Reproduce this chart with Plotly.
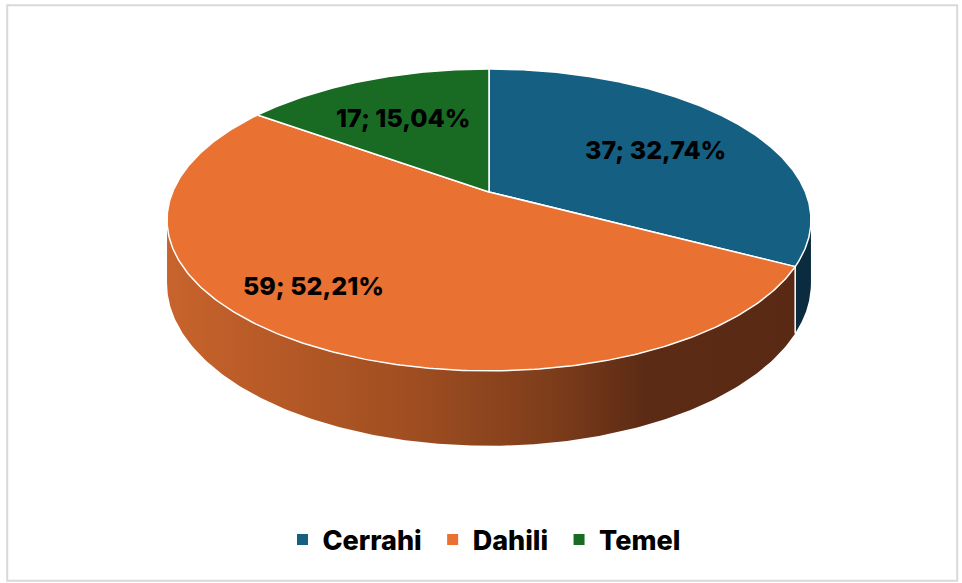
import numpy as np
import plotly.graph_objects as go

# ---- data ----
CATEGORIES = ["Cerrahi", "Dahili", "Temel"]
VALUES = [37, 59, 17]

# ---- styles ----
TOP_COLORS = ["#156082", "#E97132", "#196B24"]
WALL_SOLID = ["#0B2C3E", None, "#0C3512"]
DAHILI_WALL_SCALE = [[0.0, "#C8632C"], [0.38, "#A04E21"], [0.6, "#7E3D1B"],
                     [0.75, "#5C2B15"], [1.0, "#5A2913"]]
LABEL_XY = [(655, 150), (313, 286), (403, 118)]
FONT = "Inter, Roboto, 'Open Sans', sans-serif"

W, Hpx = 962, 583
CX, CY = 489.0, 192.0
RX, RY = 316.4, 145.8
K = 0.185
DEPTH = 61.0


def proj(theta_deg, r=1.0, depth=0.0):
    t = np.radians(np.asarray(theta_deg, dtype=float))
    u = r * np.sin(t)
    v = r * np.cos(t)
    p = 1.0 / (1.0 + K * v)
    x = CX + RX * u * p
    y = CY - RY * v * p + depth * DEPTH * p
    return x, y


total = sum(VALUES)
angles = np.cumsum([0] + [v / total * 360 for v in VALUES])
theta_r = np.degrees(np.arccos(-K))          # right silhouette
theta_l = 360 - theta_r                      # left silhouette

fig = go.Figure()

# ---- side walls (visible front part) ----
for i, cat in enumerate(CATEGORIES):
    a0, a1 = max(angles[i], theta_r), min(angles[i + 1], theta_l)
    if a1 <= a0:
        continue
    th = np.linspace(a0, a1, 200)
    xt, yt = proj(th)
    xb, yb = proj(th[::-1], depth=1.0)
    xs = np.concatenate([xt, xb, xt[:1]])
    ys = np.concatenate([yt, yb, yt[:1]])
    kw = dict(x=xs, y=ys, mode="lines", fill="toself", line=dict(width=0),
              hoverinfo="skip", showlegend=False)
    if WALL_SOLID[i] is None:
        kw["fillgradient"] = dict(type="horizontal", colorscale=DAHILI_WALL_SCALE,
                                  start=CX - RX * 1.02, stop=CX + RX)
        kw["fillcolor"] = "#A04E21"
    else:
        kw["fillcolor"] = WALL_SOLID[i]
    fig.add_trace(go.Scatter(**kw))

# white edges between wall segments
for a in angles[1:-1]:
    if theta_r < a < theta_l:
        x0, y0 = proj(a)
        x1, y1 = proj(a, depth=1.0)
        fig.add_trace(go.Scatter(x=[x0, x1], y=[y0, y1], mode="lines",
                                 line=dict(color="white", width=1.5),
                                 hoverinfo="skip", showlegend=False))

# ---- top faces ----
for i, cat in enumerate(CATEGORIES):
    th = np.linspace(angles[i], angles[i + 1], 300)
    xa, ya = proj(th)
    xs = np.concatenate([[CX], xa, [CX]])
    ys = np.concatenate([[CY], ya, [CY]])
    fig.add_trace(go.Scatter(x=xs, y=ys, mode="lines", fill="toself",
                             fillcolor=TOP_COLORS[i],
                             line=dict(color="white", width=1.5),
                             hoverinfo="skip", showlegend=False))

# ---- legend entries ----
for i, cat in enumerate(CATEGORIES):
    fig.add_trace(go.Scatter(x=[None], y=[None], mode="markers", name=cat + " ",
                             marker=dict(symbol="square", size=11, color=TOP_COLORS[i])))

# ---- data labels ----
for i, cat in enumerate(CATEGORIES):
    pct = VALUES[i] / total * 100
    txt = f"{VALUES[i]}; {pct:.2f}%".replace(".", ",")
    fig.add_annotation(x=LABEL_XY[i][0], y=LABEL_XY[i][1], text=txt, showarrow=False,
                       font=dict(family=FONT, size=25, color="black", weight=800),
                       xanchor="center", yanchor="middle")

fig.update_layout(
    width=W, height=Hpx,
    margin=dict(l=0, r=0, t=0, b=0),
    paper_bgcolor="white", plot_bgcolor="white",
    xaxis=dict(range=[0, W], visible=False, fixedrange=True),
    yaxis=dict(range=[Hpx, 0], visible=False, fixedrange=True),
    showlegend=True,
    legend=dict(orientation="h", x=0.5 + 6 / W, xanchor="center", y=1 - 540 / Hpx, yanchor="middle",
                font=dict(family=FONT, size=27, color="black", weight=800),
                itemwidth=30, bgcolor="rgba(0,0,0,0)"),
    shapes=[dict(type="rect", xref="paper", yref="paper", x0=0.0075, x1=0.995,
                 y0=0.004, y1=0.991, line=dict(color="#D9D9D9", width=2))],
)

fig.write_html("out.html", config={"displayModeBar": False},
               post_script="document.body.style.margin='0';document.body.style.overflow='hidden';")
